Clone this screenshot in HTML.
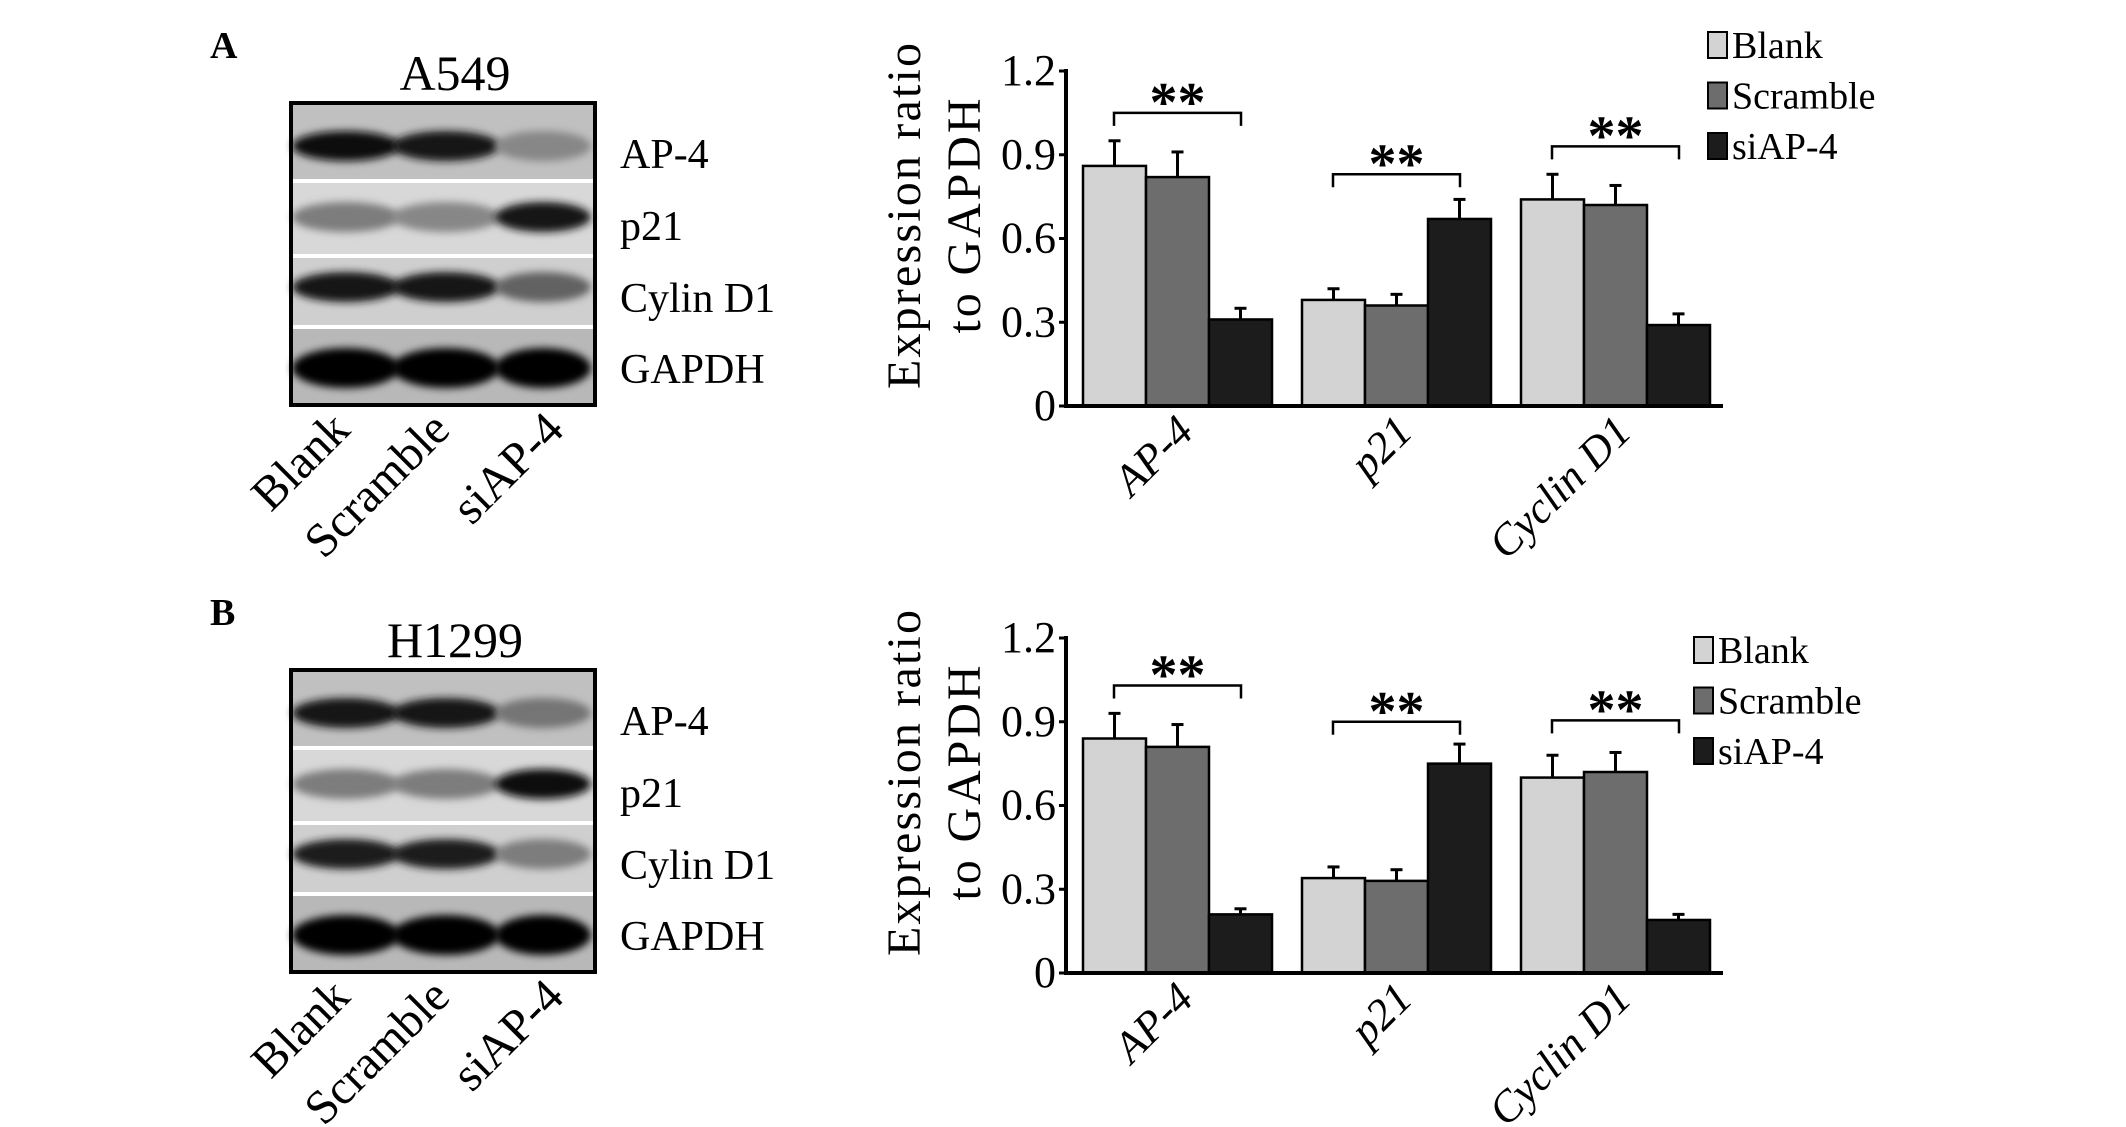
<!DOCTYPE html>
<html><head><meta charset="utf-8"><style>
html,body{margin:0;padding:0;background:#fff;}
svg{display:block;font-family:"Liberation Serif",serif;}
</style></head><body>
<svg id="fig" width="2126" height="1127" viewBox="0 0 2126 1127" xmlns="http://www.w3.org/2000/svg">
<defs>
<filter id="blur" x="-20%" y="-60%" width="140%" height="220%"><feGaussianBlur stdDeviation="4"/></filter>
</defs>
</svg>
<script>
// ---- chart data ----
const categories = ["AP-4", "p21", "Cyclin D1"];
const seriesNames = ["Blank", "Scramble", "siAP-4"];
const yTicks = [0, 0.3, 0.6, 0.9, 1.2];
const yTickLabels = ["0", "0.3", "0.6", "0.9", "1.2"];
const blankA = [0.86, 0.38, 0.74];
const scrambleA = [0.82, 0.36, 0.72];
const siA = [0.31, 0.67, 0.29];
const blankErrA = [0.09, 0.04, 0.09];
const scrambleErrA = [0.09, 0.04, 0.07];
const siErrA = [0.04, 0.07, 0.04];
const bracketA = [1.05, 0.83, 0.93];
const blankB = [0.84, 0.34, 0.70];
const scrambleB = [0.81, 0.33, 0.72];
const siB = [0.21, 0.75, 0.19];
const blankErrB = [0.09, 0.04, 0.08];
const scrambleErrB = [0.08, 0.04, 0.07];
const siErrB = [0.02, 0.07, 0.02];
const bracketB = [1.03, 0.90, 0.905];
const blotRows = ["AP-4", "p21", "Cylin D1", "GAPDH"];
const lanes = ["Blank", "Scramble", "siAP-4"];
const bandA = [[0.97, 0.93, 0.3], [0.35, 0.3, 0.92], [0.92, 0.9, 0.5], [1, 1, 1]];
const bandB = [[0.92, 0.9, 0.4], [0.35, 0.35, 0.97], [0.88, 0.88, 0.35], [1, 1, 1]];

const NS = "http://www.w3.org/2000/svg";
const svg = document.getElementById("fig");
function mk(tag, attrs, parent, text) {
  const e = document.createElementNS(NS, tag);
  for (const k in attrs) e.setAttribute(k, attrs[k]);
  if (text !== undefined) e.textContent = text;
  (parent || svg).appendChild(e);
  return e;
}
const colors = ["#d3d3d3", "#6d6d6d", "#1c1c1c"];

function drawChart(oy, lx, series, errs, brackets, panel) {
  const g = mk("g", {});
  
  
  const y0 = 406 + oy, yTop = 71 + oy;
  const yS = v => y0 - (v / 1.2) * (y0 - yTop);
  const axX = 1066;
  const bw = 63, gStep = 219, gStart = 1083;
  const xS = (gi, si) => gStart + gi * gStep + si * bw;
  series.forEach((vals, si) => {
    vals.forEach((v, gi) => {
      const x = xS(gi, si);
      const ey = yS(v + errs[si][gi]);
      const eb = mk("line", {x1: x + bw / 2, x2: x + bw / 2, y1: yS(v), y2: ey, stroke: "#000", "stroke-width": 3}, g);
      
      
      const cap = mk("line", {x1: x + bw / 2 - 6, x2: x + bw / 2 + 6, y1: ey, y2: ey, stroke: "#000", "stroke-width": 3}, g);
      
      
      const r = mk("rect", {x: x, y: yS(v), width: bw, height: y0 - yS(v), fill: colors[si], stroke: "#000", "stroke-width": 2.5}, g);
      
      
    });
  });
  const ya = mk("line", {x1: axX, x2: axX, y1: yTop - 2, y2: y0 + 2, stroke: "#000", "stroke-width": 4}, g);
  
  
  const xa = mk("line", {x1: axX - 2, x2: 1723, y1: y0, y2: y0, stroke: "#000", "stroke-width": 4}, g);
  
  
  yTicks.forEach((t, i) => {
    const tk = mk("line", {x1: axX - 7, x2: axX, y1: yS(t), y2: yS(t), stroke: "#000", "stroke-width": 3}, g);
    
    
    const tl = mk("text", {x: axX - 10, y: yS(t) + 14, "text-anchor": "end", "font-size": 44}, g, yTickLabels[i]);
    
    
  });
  const t1 = mk("text", {transform: `translate(920 ${216 + oy}) rotate(-90)`, "text-anchor": "middle", "font-size": 48, textLength: 346, lengthAdjust: "spacing"}, g, "Expression ratio");
  
  
  const t2 = mk("text", {transform: `translate(980 ${216 + oy}) rotate(-90)`, "text-anchor": "middle", "font-size": 48, textLength: 235, lengthAdjust: "spacing"}, g, "to GAPDH");
  
  
  categories.forEach((c, gi) => {
    const cx = xS(gi, 1) + bw / 2 + 18;
    const xl = mk("text", {transform: `translate(${cx} ${y0 + 28}) rotate(-45)`, "text-anchor": "end", "font-size": 44, "font-style": "italic"}, g, c);
    
    
  });
  brackets.forEach((b, gi) => {
    const by = yS(b);
    const x1 = xS(gi, 0) + 31, x2 = xS(gi, 2) + 32;
    const p = mk("path", {d: `M${x1} ${by + 13} V${by} H${x2} V${by + 13}`, fill: "none", stroke: "#000", "stroke-width": 2.5}, g);
    
    
    const s = mk("text", {x: (x1 + x2) / 2, y: by + 8, "text-anchor": "middle", "font-size": 56, "font-weight": "bold"}, g, "**");
    
    
  });
  const lg = mk("g", {}, g);
  
  
  seriesNames.forEach((n, i) => {
    const ly = 45 + oy + (panel === "b" ? 38 : 0) + i * 50.5;
    const sq = mk("rect", {x: lx, y: ly - 13, width: 19, height: 26, fill: colors[i], stroke: "#000", "stroke-width": 2}, lg);
    
    
    const lt = mk("text", {x: lx + 24, y: ly + 13, "font-size": 38}, lg, n);
    
    
  });
}

function drawBlot(oy, title, bands, panel) {
  const g = mk("g", {});
  
  
  const pl = mk("text", {x: 210, y: 58 + oy, "font-size": 38, "font-weight": "bold"}, g, panel.toUpperCase());
  
  
  const tt = mk("text", {x: 455, y: 90 + oy, "text-anchor": "middle", "font-size": 50}, g, title);
  
  
  const rowY = [[104, 179], [183, 254], [258, 325], [329, 404]];
  const bg = ["#c0c0c0", "#d8d8d8", "#cfcfcf", "#b8b8b8"];
  const centers = [146, 217, 287, 368];
  const laneX = [346, 446, 543];
  const laneW = [108, 108, 96];
  rowY.forEach((r, ri) => {
    const rr = mk("rect", {x: 292, y: r[0] + oy, width: 302, height: r[1] - r[0], fill: bg[ri]}, g);
    
    
    bands[ri].forEach((v, li) => {
      const shade = Math.round(190 - 185 * v);
      const e = mk("ellipse", {cx: laneX[li], cy: centers[ri] + oy, rx: laneW[li] / 2, ry: ri === 3 ? 20 : 15, fill: `rgb(${shade},${shade},${shade})`, filter: "url(#blur)"}, g);
      
      
    });
    const lb = mk("text", {x: 620, y: [168, 240, 312, 383][ri] + oy, "font-size": 42}, g, blotRows[ri]);
    
    
  });
  const box = mk("rect", {x: 291, y: 103 + oy, width: 304, height: 302, fill: "none", stroke: "#000", "stroke-width": 4}, g);
  
  
  lanes.forEach((l, i) => {
    const lt = mk("text", {transform: `translate(${[352, 452, 566][i]} ${432 + oy}) rotate(-45)`, "text-anchor": "end", "font-size": 48}, g, l);
    
    
  });
}

drawBlot(0, "A549", bandA, "a");
drawBlot(567, "H1299", bandB, "b");
drawChart(0, 1708, [blankA, scrambleA, siA], [blankErrA, scrambleErrA, siErrA], bracketA, "a");
drawChart(567, 1694, [blankB, scrambleB, siB], [blankErrB, scrambleErrB, siErrB], bracketB, "b");
</script>
</body></html>
